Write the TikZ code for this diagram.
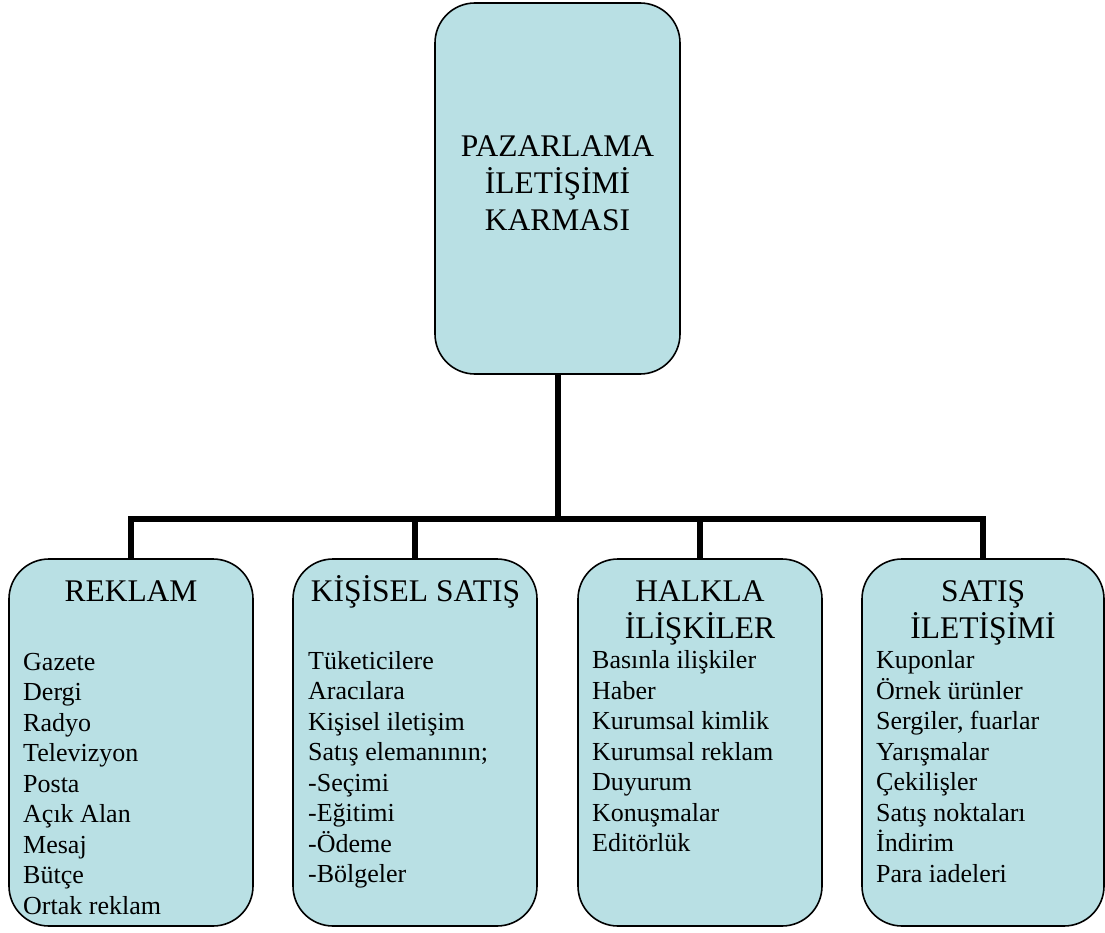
\documentclass[tikz,border=0pt]{standalone}
\usepackage{fontspec}
\setmainfont{Liberation Serif}
\definecolor{boxfill}{RGB}{185,224,228}
\tikzset{
  x=1pt,y=-1pt,
  box/.style={draw=black,line width=1.6pt,fill=boxfill,rounded corners=40pt,inner sep=0pt},
  conn/.style={draw=black,line width=6pt},
  head/.style={font=\fontsize{31.5}{36.7}\selectfont,align=center,inner sep=0pt,anchor=base},
  item/.style={font=\fontsize{26}{30.5}\selectfont,inner sep=0pt,anchor=base west}
}
\begin{document}
\begin{tikzpicture}
\useasboundingbox (0,0) rectangle (1105,933);
% boxes
\node[box,minimum width=245pt,minimum height=371pt] (top) at (557.5,188.5) {};
\node[box,minimum width=244pt,minimum height=367pt] (b1) at (131,742.5) {};
\node[box,minimum width=244pt,minimum height=367pt] (b2) at (415,742.5) {};
\node[box,minimum width=244pt,minimum height=367pt] (b3) at (700,742.5) {};
\node[box,minimum width=242pt,minimum height=367pt] (b4) at (983,742.5) {};
% connectors
\coordinate (j) at (557.5,519);
\draw[conn] (top.south) -- (j);
\draw[conn] (b1.north) |- (j);
\draw[conn] (b2.north) |- (j);
\draw[conn] (b3.north) |- (j);
\draw[conn] (b4.north) |- (j);
% title
\node[head] (tt1) at (557.5,157) {PAZARLAMA};
\node[head] (tt2) at (557.5,193.7) {İLETİŞİMİ};
\node[head] (tt3) at (557.5,230.4) {KARMASI};
% headers
\node[head] (h1) at (131,601.7) {REKLAM};
\node[head] (h2) at (415.5,601.7) {KİŞİSEL SATIŞ};
\node[head] (h3a) at (700,601.7) {HALKLA};
\node[head] (h3b) at (700,638.4) {İLİŞKİLER};
\node[head] (h4a) at (983,601.7) {SATIŞ};
\node[head] (h4b) at (983,638.4) {İLETİŞİMİ};
% items
\foreach \t [count=\i from 0] in {Gazete,Dergi,Radyo,Televizyon,Posta,Açık Alan,Mesaj,Bütçe,Ortak reklam}
  \node[item] (ia\i) at (23,670+\i*30.5) {\t};
\foreach \t [count=\i from 0] in {Tüketicilere,Aracılara,Kişisel iletişim,Satış elemanının;,-Seçimi,-Eğitimi,-Ödeme,-Bölgeler}
  \node[item] (ib\i) at (308,669+\i*30.5) {\t};
\foreach \t [count=\i from 0] in {Basınla ilişkiler,Haber,Kurumsal kimlik,Kurumsal reklam,Duyurum,Konuşmalar,Editörlük}
  \node[item] (ic\i) at (592,668.5+\i*30.5) {\t};
\foreach \t [count=\i from 0] in {Kuponlar,Örnek ürünler,{Sergiler, fuarlar},Yarışmalar,Çekilişler,Satış noktaları,İndirim,Para iadeleri}
  \node[item] (id\i) at (876,668.5+\i*30.5) {\t};
\end{tikzpicture}
\end{document}
